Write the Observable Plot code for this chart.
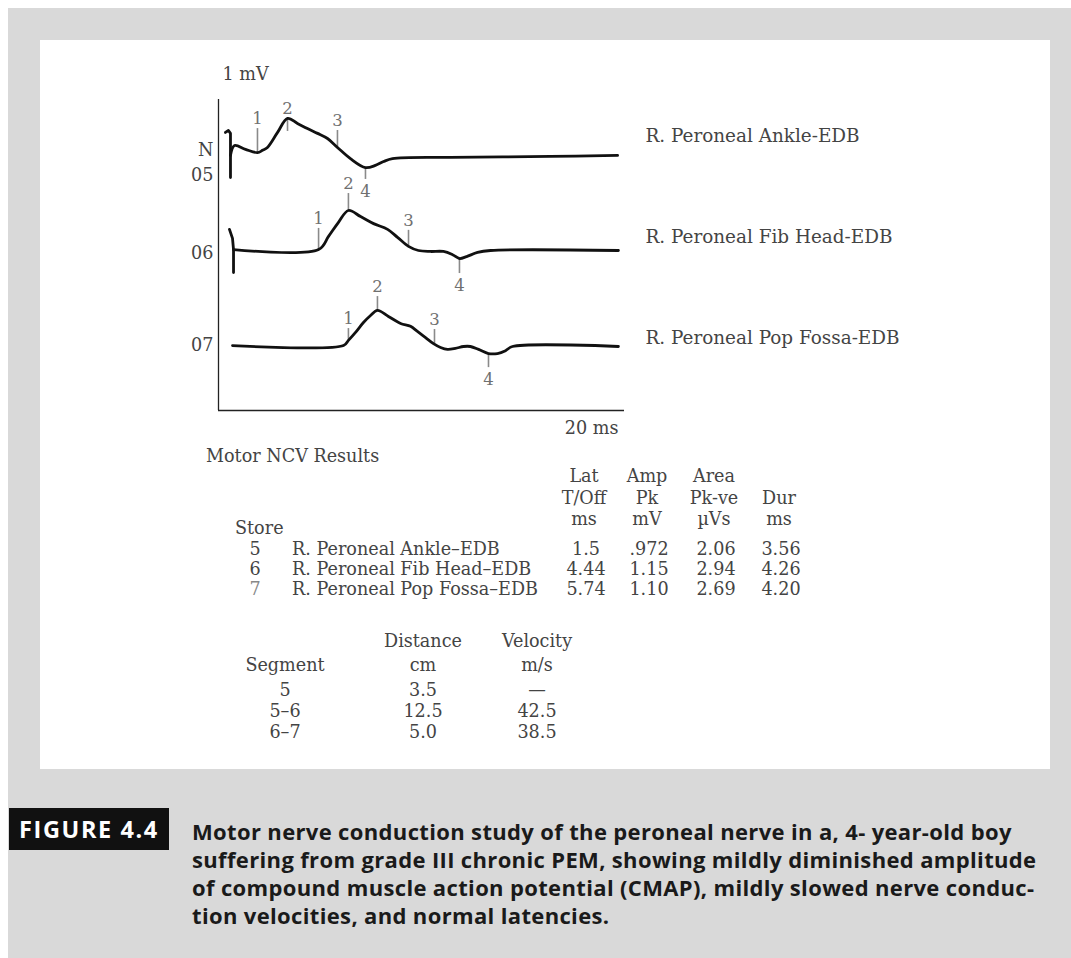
<!DOCTYPE html>
<html><head><meta charset="utf-8">
<script src="https://cdn.jsdelivr.net/npm/d3@7"></script>
<script src="https://cdn.jsdelivr.net/npm/@observablehq/plot@0.6"></script>
<style>
body{margin:0;width:1071px;height:958px;position:relative;background:#fff;overflow:hidden}
#bg{position:absolute;left:8px;top:8px;width:1063px;height:950px;background:#d9d9d9}
#panel{position:absolute;left:40px;top:40px;width:1010px;height:729px;background:#fff}
#chart{position:absolute;left:0;top:0}
.t{position:absolute;font-family:"DejaVu Serif";font-size:17.6px;color:#444;white-space:nowrap;line-height:1}
#figbox{position:absolute;left:9px;top:808px;width:160px;height:42px;background:#111;color:#fff;font-family:"Open Sans";font-weight:700;font-size:23.5px;letter-spacing:1.6px;line-height:42px;text-align:center}
#caption{position:absolute;left:192px;top:817px;font-family:"Open Sans";font-weight:700;font-size:22px;letter-spacing:0.35px;line-height:28px;color:#1a1a1a;white-space:nowrap}
</style></head>
<body>
<div id="bg"></div>
<div id="panel"></div>
<div id="chart"></div>
<div id="tables"></div>
<div id="figbox">FIGURE 4.4</div>
<div id="caption"></div>
<script>
// ---------- data ----------
// time in ms, amplitude in mV relative to each trace's baseline
const traceNames = ["R. Peroneal Ankle-EDB", "R. Peroneal Fib Head-EDB", "R. Peroneal Pop Fossa-EDB"];
const traceStores = ["05", "06", "07"];

const trace05 = [[0.59,-0.03],[0.79,0.28],[1.33,0.16],[1.92,0.06],[2.17,0.13],[2.41,0.22],[2.91,0.69],[3.40,1.13],[3.89,0.97],[4.38,0.81],[4.88,0.66],[5.37,0.50],[5.86,0.22],[6.50,-0.13],[7.24,-0.41],[7.73,-0.34],[8.13,-0.22],[8.57,-0.13],[11.43,-0.09],[16.35,-0.06],[19.66,-0.03]];
const artifact05 = [[0.34,0.69],[0.49,0.75],[0.59,0.66],[0.59,-0.72]];

const trace06 = [[0.74,0.03],[4.93,0.03],[5.42,0.44],[5.91,0.88],[6.40,1.25],[7.00,1.06],[7.64,0.84],[8.33,0.66],[8.82,0.41],[9.36,0.13],[9.85,0.00],[10.44,-0.03],[11.08,-0.03],[11.53,-0.13],[11.87,-0.25],[12.22,-0.19],[12.76,-0.06],[13.40,0.00],[19.70,0.00]];
const artifact06 = [[0.54,0.66],[0.69,0.38],[0.74,0.03],[0.74,-0.69]];

const trace07 = [[0.69,0.03],[6.16,0.03],[6.40,0.19],[6.75,0.44],[7.14,0.75],[7.49,0.97],[7.83,1.13],[8.37,0.94],[8.97,0.72],[9.46,0.63],[9.80,0.47],[10.20,0.28],[10.59,0.09],[10.94,-0.03],[11.28,-0.09],[11.67,-0.06],[12.07,0.00],[12.41,0.00],[12.81,-0.09],[13.30,-0.22],[13.74,-0.22],[14.14,-0.13],[14.48,0.00],[19.70,0.00]];

// markers: [label, time ms, tick from mV, tick to mV]
const markers05 = [["1",1.92,0.81,0.06],["2",3.40,1.13,0.72],["3",5.86,0.75,0.22],["4",7.24,-0.41,-0.78]];
const markers06 = [["1",4.93,0.69,0.03],["2",6.40,1.78,1.25],["3",9.36,0.63,0.09],["4",11.87,-0.25,-0.72]];
const markers07 = [["1",6.40,0.56,0.19],["2",7.83,1.56,1.13],["3",10.64,0.53,0.09],["4",13.30,-0.25,-0.66]];

// tables
const storeNums = ["5", "6", "7"];
const sites = ["R. Peroneal Ankle–EDB", "R. Peroneal Fib Head–EDB", "R. Peroneal Pop Fossa–EDB"];
const latency = ["1.5", "4.44", "5.74"];
const amplitude = [".972", "1.15", "1.10"];
const area = ["2.06", "2.94", "2.69"];
const duration = ["3.56", "4.26", "4.20"];
const segments = ["5", "5–6", "6–7"];
const distance = ["3.5", "12.5", "5.0"];
const velocity = ["—", "42.5", "38.5"];

const captionLines = [
  "Motor nerve conduction study of the peroneal nerve in a, 4- year-old boy",
  "suffering from grade III chronic PEM, showing mildly diminished amplitude",
  "of compound muscle action potential (CMAP), mildly slowed nerve conduc-",
  "tion velocities, and normal latencies."
];

// ---------- layout ----------
const offsets = [8, 5, 2];          // vertical stacking of traces (mV)
const nameLift = [0.56, 0.41, 0.25]; // trace-name placement above baseline (mV)

const traces = [trace05, trace06, trace07];
const artifacts = [artifact05, artifact06];
const markers = [markers05, markers06, markers07];

const lineRows = traces.flatMap((tr, i) => tr.map(([t, v]) => ({id: i, t, v: v + offsets[i]})));
const artRows = artifacts.flatMap((tr, i) => tr.map(([t, v]) => ({id: i, t, v: v + offsets[i]})));
const markRows = markers.flatMap((ms, i) => ms.map(([label, t, a, b]) => ({
  label, t, y1: a + offsets[i], y2: b + offsets[i], below: a < 0
})));

const serif = "DejaVu Serif";
const ink = "#444";
const chart = Plot.plot({
  width: 1071, height: 770, margin: 0,
  x: {domain: [0, 20], range: [218, 624], axis: null},
  y: {domain: [0, 10], range: [410, 90], axis: null},
  style: {background: "transparent", overflow: "visible"},
  marks: [
    Plot.ruleX([0], {y1: 0, y2: 9.72, stroke: "#222", strokeWidth: 1.3}),
    Plot.ruleY([0], {x1: 0, x2: 20, stroke: "#222", strokeWidth: 1.3}),
    Plot.ruleX(markRows, {x: "t", y1: "y1", y2: "y2", stroke: "#8a8a8a", strokeWidth: 1.6}),
    Plot.line(artRows, {x: "t", y: "v", z: "id", stroke: "#111", strokeWidth: 2.8, curve: "linear"}),
    Plot.line(lineRows, {x: "t", y: "v", z: "id", stroke: "#111", strokeWidth: 2.8, curve: "catmull-rom", strokeLinejoin: "round"}),
    Plot.text(markRows.filter(d => !d.below), {x: "t", y: "y1", text: "label", dy: -10, fill: "#707070", fontFamily: serif, fontSize: 16.5}),
    Plot.text(markRows.filter(d => d.below), {x: "t", y: "y2", text: "label", dy: 12, fill: "#707070", fontFamily: serif, fontSize: 16.5}),
    Plot.text(["1 mV"], {x: 0, y: 10.5, text: d => d, dx: 4, textAnchor: "start", fill: ink, fontFamily: serif, fontSize: 17.6}),
    Plot.text(["20 ms"], {x: 20, y: -0.56, text: d => d, dx: -6, textAnchor: "end", fill: ink, fontFamily: serif, fontSize: 17.6}),
    Plot.text(["N"], {x: 0, y: offsets[0] + 0.13, text: d => d, dx: -5, textAnchor: "end", fill: ink, fontFamily: serif, fontSize: 17.6}),
    Plot.text(traceStores, {x: 0, y: (d, i) => offsets[i] + [-0.66, -0.09, 0.03][i], text: d => d, dx: -5, textAnchor: "end", fill: ink, fontFamily: serif, fontSize: 17.6}),
    Plot.text(traceNames, {x: 21.03, y: (d, i) => offsets[i] + nameLift[i], text: d => d, textAnchor: "start", fill: ink, fontFamily: serif, fontSize: 18.4})
  ]
});
document.getElementById("chart").appendChild(chart);

// ---------- tables (HTML text) ----------
const tables = document.getElementById("tables");
function put(text, x, y, anchor = "middle", color) {
  const s = document.createElement("span");
  s.className = "t";
  s.textContent = text;
  s.style.left = x + "px";
  s.style.top = (y + 1.5) + "px";
  const tx = anchor === "start" ? "0" : anchor === "end" ? "-100%" : "-50%";
  s.style.transform = `translate(${tx},-50%)`;
  if (color) s.style.color = color;
  tables.appendChild(s);
}
put("Motor NCV Results", 206, 455, "start");
const colX = [584, 647, 714, 779];
const headers = [["Lat", "T/Off", "ms"], ["Amp", "Pk", "mV"], ["Area", "Pk-ve", "µVs"], [null, "Dur", "ms"]];
const headY = [475, 497, 518];
headers.forEach((h, c) => h.forEach((txt, r) => { if (txt) put(txt, colX[c], headY[r]); }));
put("Store", 235, 527, "start");
const rowY = [548, 568, 588];
const cols = [latency, amplitude, area, duration];
storeNums.forEach((s, i) => {
  put(s, 255, rowY[i], "middle", i === 2 ? "#888" : null);
  put(sites[i], 292, rowY[i], "start");
  cols.forEach((col, c) => put(col[i], colX[c] + 2, rowY[i]));
});
const segX = [285, 423, 537];
put("Distance", segX[1], 640);
put("Velocity", segX[2], 640);
put("Segment", segX[0], 664);
put("cm", segX[1], 664);
put("m/s", segX[2], 664);
const segY = [689, 710, 731];
segments.forEach((s, i) => {
  put(s, segX[0], segY[i]);
  put(distance[i], segX[1], segY[i]);
  put(velocity[i], segX[2], segY[i]);
});

document.getElementById("caption").innerHTML = captionLines.join("<br>");
</script>
</body></html>
